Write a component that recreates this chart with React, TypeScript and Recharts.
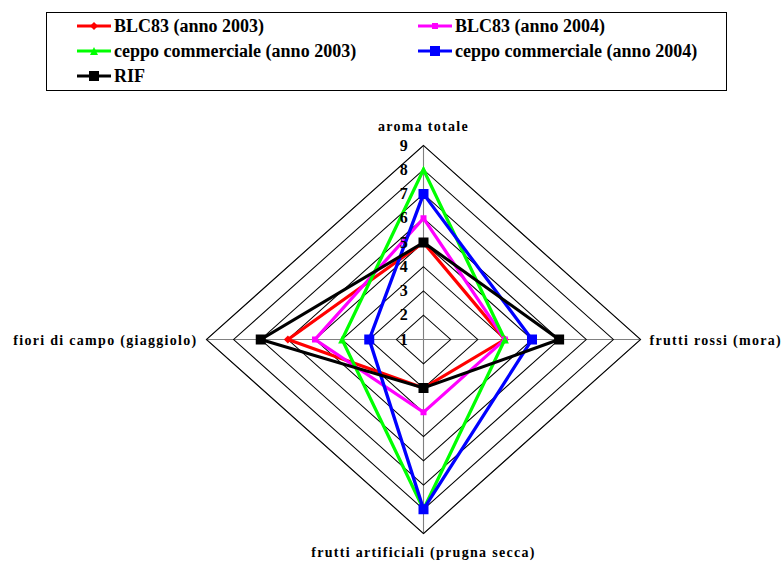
import React from "react";
import {
  RadarChart,
  Radar,
  PolarGrid,
  PolarAngleAxis,
  PolarRadiusAxis,
} from "recharts";

const categories = [
  "aroma totale",
  "frutti rossi (mora)",
  "frutti artificiali (prugna secca)",
  "fiori di campo (giaggiolo)",
];

const blc2003 = [5, 4, 3, 6];
const blc2004 = [6, 4, 4, 5];
const ceppo2003 = [8, 4, 8, 4];
const ceppo2004 = [7, 5, 8, 3];
const rif = [5, 6, 3, 7];

const radiusTicks = [1, 2, 3, 4, 5, 6, 7, 8, 9];

const series = [
  { key: "blc2003", name: "BLC83 (anno 2003)", color: "#ff0000", marker: "diamond", values: blc2003 },
  { key: "blc2004", name: "BLC83 (anno 2004)", color: "#ff00ff", marker: "smallSquare", values: blc2004 },
  { key: "ceppo2003", name: "ceppo commerciale (anno 2003)", color: "#00ff00", marker: "triangle", values: ceppo2003 },
  { key: "ceppo2004", name: "ceppo commerciale (anno 2004)", color: "#0000ff", marker: "square", values: ceppo2004 },
  { key: "rif", name: "RIF", color: "#000000", marker: "square", values: rif },
];

const data = categories.map((c, i) => {
  const row: any = { axis: c };
  series.forEach((s) => (row[s.key] = s.values[i]));
  return row;
});

// the original plot is stretched horizontally, so the chart is scaled and text is scaled back
const SX = 217 / 194;
const CX = 423.5;
const CY = 339.5;
const R = 194;
const FONT = "Liberation Serif, Times New Roman, serif";

function Marker({ type, cx, cy, color, k = 1 }: any) {
  if (type === "diamond") {
    const h = 4;
    return (
      <polygon
        points={`${cx},${cy - h} ${cx + h * k},${cy} ${cx},${cy + h} ${cx - h * k},${cy}`}
        fill={color}
      />
    );
  }
  if (type === "triangle") {
    const h = 4;
    return (
      <polygon
        points={`${cx},${cy - h} ${cx + h * k},${cy + h} ${cx - h * k},${cy + h}`}
        fill={color}
      />
    );
  }
  const s = type === "smallSquare" ? 3 : 5;
  return <rect x={cx - s * k} y={cy - s} width={2 * s * k} height={2 * s} fill={color} />;
}

function AngleTick(props: any) {
  const { x, y, payload } = props;
  let anchor = "middle";
  let dy = 5;
  if (Math.abs(x - CX) < 2) {
    dy = y < CY ? -7 : 15;
  } else if (x > CX) {
    anchor = "start";
  } else {
    anchor = "end";
  }
  return (
    <text
      transform={`translate(${x},${y + dy}) scale(${1 / SX},1)`}
      textAnchor={anchor}
      fontFamily={FONT}
      fontWeight="bold"
      fontSize={14}
      letterSpacing={1.3}
      fill="#000"
    >
      {payload.value}
    </text>
  );
}

function RadiusTick(props: any) {
  const { x, y, payload } = props;
  return (
    <text
      transform={`translate(${x - 14},${y + 5}) scale(${1 / SX},1)`}
      textAnchor="end"
      fontFamily={FONT}
      fontWeight="bold"
      fontSize={16}
      fill="#000"
    >
      {payload.value}
    </text>
  );
}

function LegendItem({ s, x, y }: any) {
  return (
    <div style={{ position: "absolute", left: x, top: y - 12, height: 24, display: "flex", alignItems: "center" }}>
      <svg width={36} height={24}>
        <line x1={1} y1={12} x2={35} y2={12} stroke={s.color} strokeWidth={3} />
        <Marker type={s.marker} cx={18} cy={12} color={s.color} />
      </svg>
      <span style={{ marginLeft: 2, fontFamily: FONT, fontWeight: "bold", fontSize: 18, whiteSpace: "nowrap" }}>
        {s.name}
      </span>
    </div>
  );
}

export default function App() {
  const legendPos = [
    { x: 76, y: 26 },
    { x: 417, y: 26 },
    { x: 76, y: 51 },
    { x: 417, y: 51 },
    { x: 76, y: 76 },
  ];

  return (
    <div style={{ position: "absolute", left: 0, top: 0, width: 782, height: 561, background: "#fff", overflow: "hidden" }}>
      <div
        style={{
          position: "absolute",
          left: 0,
          top: 0,
          transform: `scaleX(${SX})`,
          transformOrigin: `${CX}px ${CY}px`,
        }}
      >
        <RadarChart
          width={782}
          height={561}
          data={data}
          cx={CX}
          cy={CY}
          outerRadius={R}
          margin={{ top: 0, right: 0, bottom: 0, left: 0 }}
        >
          <PolarGrid gridType="polygon" polarRadius={[R]} stroke="#808080" strokeWidth={1} />
          <PolarGrid gridType="polygon" radialLines={false} stroke="#000" strokeWidth={1} />
          <PolarAngleAxis dataKey="axis" tick={<AngleTick />} tickLine={false} axisLine={false} />
          <PolarRadiusAxis
            angle={90}
            domain={[1, 9]}
            ticks={radiusTicks as any}
            tickCount={9}
            tick={<RadiusTick />}
            axisLine={false}
            tickLine={false}
          />
          {series.map((s) => (
            <Radar
              key={s.key}
              name={s.name}
              dataKey={s.key}
              stroke={s.color}
              strokeWidth={3}
              fill="none"
              fillOpacity={0}
              isAnimationActive={false}
              dot={(p: any) => (
                <Marker key={`${s.key}-${p.index}`} type={s.marker} cx={p.cx} cy={p.cy} color={s.color} k={1 / SX} />
              )}
            />
          ))}
        </RadarChart>
      </div>
      <div
        style={{
          position: "absolute",
          left: 46,
          top: 12,
          width: 681,
          height: 79,
          boxSizing: "border-box",
          border: "1px solid #000",
        }}
      />
      {series.map((s, i) => (
        <LegendItem key={s.key} s={s} x={legendPos[i].x} y={legendPos[i].y} />
      ))}
    </div>
  );
}
